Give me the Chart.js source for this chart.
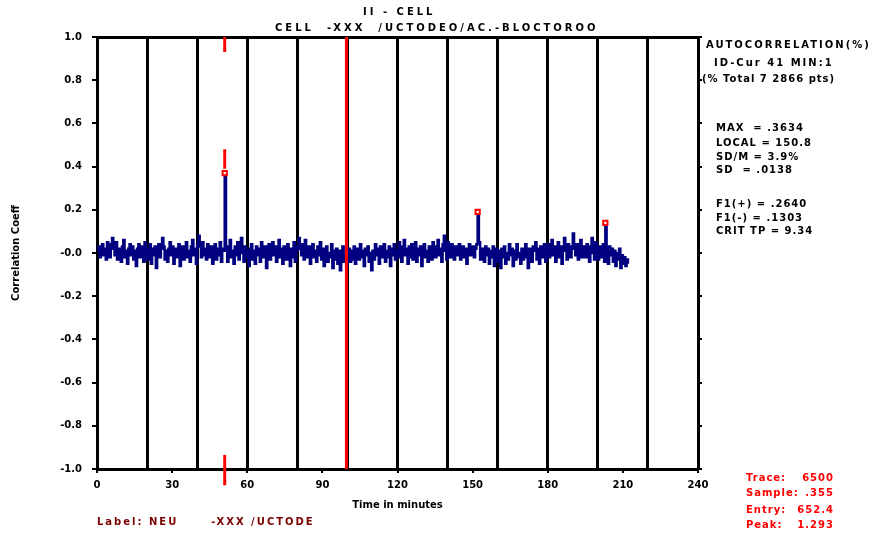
<!DOCTYPE html>
<html>
<head>
<meta charset="utf-8">
<script src="https://cdn.jsdelivr.net/npm/chart.js@4"></script>
<style>
  body { margin: 0; background: #fff; }
  #wrap { position: relative; width: 876px; height: 533px; }
  #wrap canvas { position: absolute; left: 0; top: 0; }
  .t { position: absolute; font: bold 10px "DejaVu Sans", sans-serif; white-space: pre; color: #000; letter-spacing: 1px; line-height: 12px; }
  .wide { letter-spacing: 2px; }
  .title { letter-spacing: 3px; }
  .red { color: #f00; }
  .dred { color: #7a0000; }
</style>
</head>
<body>
<div id="wrap">
  <canvas id="chart" width="876" height="533"></canvas>
  <div class="t title" style="left:363px;top:6px">II - CELL</div>
  <div class="t title" style="left:275px;top:22px">CELL  -XXX  /UCTODEO/AC.-BLOCTOROO</div>

  <div class="t wide" style="left:706px;top:39px">AUTOCORRELATION(%)</div>
  <div class="t wide" style="left:714px;top:57px">ID-Cur 41 MIN:1</div>
  <div class="t" style="left:702px;top:73px">(% Total 7 2866 pts)</div>
  <div class="t" style="left:716px;top:122px">MAX  = .3634</div>
  <div class="t" style="left:716px;top:137px">LOCAL = 150.8</div>
  <div class="t" style="left:716px;top:151px">SD/M = 3.9%</div>
  <div class="t" style="left:716px;top:164px">SD  = .0138</div>
  <div class="t" style="left:716px;top:198px">F1(+) = .2640</div>
  <div class="t" style="left:716px;top:212px">F1(-) = .1303</div>
  <div class="t" style="left:716px;top:225px">CRIT TP = 9.34</div>

  <div class="t red" style="left:746px;top:472px">Trace:</div>
  <div class="t red" style="left:746px;top:487px">Sample:</div>
  <div class="t red" style="left:746px;top:504px">Entry:</div>
  <div class="t red" style="left:746px;top:519px">Peak:</div>
  <div class="t red" style="left:796px;top:472px;width:38px;text-align:right">6500</div>
  <div class="t red" style="left:796px;top:487px;width:38px;text-align:right">.355</div>
  <div class="t red" style="left:796px;top:504px;width:38px;text-align:right">652.4</div>
  <div class="t red" style="left:796px;top:519px;width:38px;text-align:right">1.293</div>

  <div class="t dred wide" style="left:97px;top:516px">Label: NEU      -XXX /UCTODE</div>
</div>
<script>
// one sample every half minute
const SAMPLE_STEP = 0.5;
const corr = [
  0.01, 0.03, -0.02, 0.00, 0.04, -0.01, 0.02, -0.03, 0.05, 0.01,
  -0.02, 0.04, 0.07, 0.02, -0.01, 0.05, -0.03, 0.02, 0.00, -0.04,
  0.03, 0.06, -0.02, 0.01, -0.05, 0.02, 0.04, -0.01, 0.03, -0.03,
  0.01, -0.06, 0.02, 0.04, -0.02, 0.03, 0.00, -0.04, 0.05, 0.02,
  -0.03, 0.01, 0.04, -0.05, 0.02, -0.01, 0.03, -0.07, 0.01, 0.04,
  -0.02, 0.02, 0.07, 0.03, -0.03, 0.01, -0.04, 0.02, 0.05, -0.01,
  0.03, -0.05, 0.00, 0.02, -0.02, 0.04, -0.06, 0.01, 0.03, -0.03,
  0.02, 0.05, -0.02, 0.01, -0.04, 0.03, 0.06, -0.01, 0.02, -0.05,
  0.04, 0.08, 0.03, -0.02, 0.05, -0.01, 0.02, -0.03, 0.04, 0.00,
  -0.02, 0.03, -0.05, 0.01, 0.04, -0.03, 0.02, -0.01, 0.05, -0.04,
  0.02, 0.01, 0.355, 0.03, -0.04, 0.02, 0.06, -0.02, 0.01, -0.05,
  0.03, -0.01, 0.05, -0.03, 0.02, 0.07, 0.00, -0.04, 0.03, -0.02,
  0.01, -0.06, 0.02, 0.04, -0.03, 0.01, -0.05, 0.03, -0.01, 0.02,
  -0.04, 0.05, 0.01, -0.02, 0.03, -0.07, 0.00, 0.04, -0.03, 0.02,
  0.05, -0.01, 0.03, -0.04, 0.01, 0.06, -0.02, 0.02, -0.05, 0.03,
  0.00, -0.03, 0.04, 0.01, -0.06, 0.02, -0.02, 0.05, -0.04, 0.01,
  0.03, 0.07, 0.02, -0.01, 0.04, -0.03, 0.06, 0.01, -0.02, 0.03,
  -0.05, 0.02, 0.04, -0.02, 0.01, -0.04, 0.03, -0.01, 0.05, -0.03,
  0.02, -0.06, 0.01, 0.03, -0.04, 0.00, -0.02, 0.04, -0.07, 0.01,
  -0.03, 0.02, -0.05, 0.01, -0.08, -0.02, 0.03, -0.04, -0.01, -0.06,
  -0.02, 0.02, -0.04, 0.01, -0.03, 0.03, -0.05, 0.00, 0.02, -0.03,
  0.04, -0.02, 0.01, -0.06, 0.02, -0.01, 0.03, -0.04, 0.00, -0.08,
  0.01, -0.03, 0.04, -0.01, 0.02, -0.05, 0.03, 0.00, -0.02, 0.04,
  -0.04, 0.01, -0.02, 0.03, -0.06, 0.02, -0.01, 0.04, -0.03, 0.01,
  -0.02, 0.05, 0.00, -0.04, 0.03, 0.06, -0.01, 0.02, -0.05, 0.03,
  -0.02, 0.04, -0.03, 0.01, 0.05, -0.04, 0.02, -0.01, 0.03, -0.06,
  0.02, 0.04, -0.02, 0.01, -0.04, 0.03, 0.00, -0.03, 0.05, 0.01,
  -0.02, 0.03, 0.06, -0.01, 0.02, -0.04, 0.04, 0.08, 0.01, -0.03,
  0.05, 0.02, -0.02, 0.04, 0.01, -0.03, 0.03, -0.01, 0.02, 0.04,
  -0.03, 0.01, 0.03, -0.02, 0.02, -0.05, 0.01, 0.04, -0.01, 0.02,
  0.03, -0.02, 0.02, 0.04, 0.175, 0.05, -0.03, 0.02, 0.00, -0.04,
  0.03, -0.01, 0.02, -0.05, 0.01, -0.02, 0.03, -0.06, 0.00, 0.02,
  -0.04, 0.01, -0.07, 0.02, -0.02, 0.03, -0.05, 0.00, -0.03, 0.04,
  -0.01, 0.02, -0.06, 0.01, -0.03, 0.04, -0.02, 0.00, -0.05, 0.02,
  -0.03, 0.01, 0.04, -0.02, -0.07, 0.02, 0.00, -0.04, 0.03, 0.01,
  0.05, -0.03, 0.02, -0.05, 0.03, 0.00, -0.02, 0.04, -0.04, 0.01,
  0.04, -0.02, 0.02, 0.06, -0.01, 0.03, -0.04, 0.01, 0.05, -0.02,
  0.03, -0.05, 0.02, 0.07, 0.01, -0.03, 0.04, 0.00, -0.02, 0.03,
  0.09, 0.02, -0.01, 0.04, -0.03, 0.02, 0.06, -0.02, 0.03, 0.01,
  -0.02, 0.04, 0.02, -0.04, 0.03, 0.07, 0.00, -0.03, 0.05, 0.02,
  -0.03, 0.03, 0.01, -0.02, 0.04, -0.04, 0.125, 0.02, -0.05, 0.03,
  -0.01, 0.02, -0.04, 0.01, -0.06, 0.00, -0.03, 0.02, -0.07, -0.01,
  -0.05, -0.02, -0.06, -0.03, -0.05
];
// detected peaks (minutes, coeff)
const peakTimes = [51.0, 152.0, 203.0];
const peakVals = [0.37, 0.19, 0.14];
// red event marker near 100 min, cursor at first peak
const eventTime = 99.6;
const cursorTime = 51.0;

const xTicks = [0, 30, 60, 90, 120, 150, 180, 210, 240];
const yTicks = [-1.0, -0.8, -0.6, -0.4, -0.2, 0.0, 0.2, 0.4, 0.6, 0.8, 1.0];
const hourLines = [0, 20, 40, 60, 80, 100, 120, 140, 160, 180, 200, 220, 240];

const FONT = { family: 'DejaVu Sans', size: 10, weight: 'bold' };

const series = corr.map((v, i) => ({ x: i * SAMPLE_STEP, y: v }));
const redLine = (x, y0, y1) => ({
  data: [{ x, y: y0 }, { x, y: y1 }],
  borderColor: '#f00', borderWidth: 3, pointRadius: 0, clip: false, order: 0,
});

new Chart(document.getElementById('chart'), {
  type: 'line',
  data: {
    datasets: [
      {
        data: series,
        borderColor: '#000080',
        borderWidth: 2.5,
        pointRadius: 0,
        stepped: true,
        order: 2,
      },
      {
        data: peakTimes.map((t, i) => ({ x: t, y: peakVals[i] })),
        showLine: false,
        pointStyle: 'rect',
        pointRadius: 3,
        pointBorderColor: '#f00',
        pointBackgroundColor: '#fff',
        pointBorderWidth: 2,
        order: 1,
      },
      redLine(eventTime, -1, 1),
      redLine(cursorTime, 0.39, 0.48),
      redLine(cursorTime, 1, 0.93),
      redLine(cursorTime, -0.935, -1.075),
    ],
  },
  options: {
    responsive: false,
    animation: false,
    layout: { padding: { top: 37, left: 0, right: 0, bottom: 0 } },
    plugins: { legend: { display: false }, tooltip: { enabled: false } },
    scales: {
      x: {
        type: 'linear', position: 'bottom', min: 0, max: 240,
        afterBuildTicks: s => { s.ticks = xTicks.map(v => ({ value: v })); },
        afterFit: s => { s.height = 64; },
        ticks: { color: '#000', font: FONT, padding: 6, maxRotation: 0 },
        grid: { drawOnChartArea: false, color: '#000', tickLength: 4, lineWidth: 2 },
        border: { color: '#000', width: 3 },
        title: { display: true, text: 'Time in minutes', color: '#000', font: FONT, padding: { top: 4, bottom: 22 } },
      },
      xg: {
        type: 'linear', position: 'top', min: 0, max: 240,
        afterBuildTicks: s => { s.ticks = hourLines.map(v => ({ value: v })); },
        afterFit: s => { s.height = 0; },
        ticks: { display: false },
        grid: { color: '#000', lineWidth: 3, drawTicks: false },
        border: { color: '#000', width: 3 },
      },
      y: {
        type: 'linear', position: 'left', min: -1, max: 1,
        afterBuildTicks: s => { s.ticks = yTicks.map(v => ({ value: v })); },
        afterFit: s => { s.width = 97; },
        ticks: {
          color: '#000', font: FONT, padding: 10,
          callback: v => (Math.abs(v) < 1e-9 ? '-0.0' : v.toFixed(1)),
        },
        grid: { drawOnChartArea: false, color: '#000', tickLength: 5, lineWidth: 2 },
        border: { color: '#000', width: 3 },
        title: { display: true, text: 'Correlation Coeff', color: '#000', font: FONT, padding: { top: 10, bottom: 0 } },
      },
      yr: {
        type: 'linear', position: 'right', min: -1, max: 1,
        afterBuildTicks: s => { s.ticks = yTicks.map(v => ({ value: v })); },
        afterFit: s => { s.width = 178; },
        ticks: { display: false },
        grid: { drawOnChartArea: false, color: '#000', tickLength: 4, lineWidth: 2 },
        border: { color: '#000', width: 3 },
      },
    },
  },
});
</script>
</body>
</html>
